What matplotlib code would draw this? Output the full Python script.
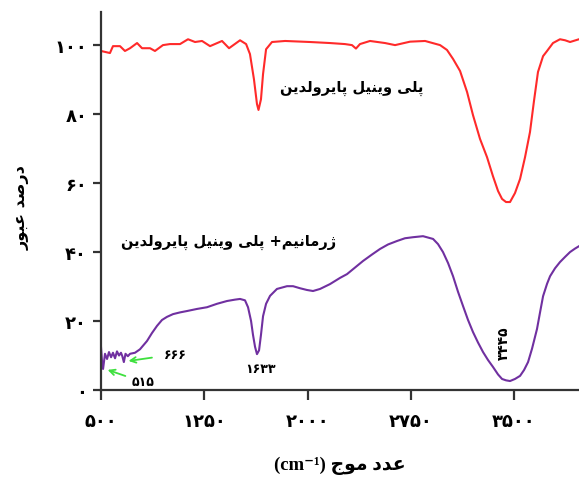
import matplotlib
matplotlib.use("Agg")
import matplotlib.pyplot as plt

# FTIR spectra: wavenumber (cm-1) and transmittance (%)
pvp_wn = [500, 565, 587, 638, 674, 711, 762, 798, 856, 892, 950, 1001, 1074, 1132,
          1183, 1234, 1292, 1379, 1430, 1510, 1554, 1582, 1611, 1633, 1644, 1662,
          1677, 1699, 1742, 1837, 2018, 2163, 2272, 2323, 2352, 2381, 2454, 2563,
          2636, 2745, 2854, 2963, 3013, 3057, 3108, 3159, 3202, 3253, 3304, 3347,
          3384, 3413, 3442, 3471, 3507, 3544, 3580, 3616, 3645, 3674, 3711, 3740,
          3783, 3834, 3871, 3907, 3972]
pvp_t = [98.3, 97.7, 99.7, 99.7, 98.3, 99.1, 100.6, 99.1, 99.1, 98.3, 100.0, 100.3,
         100.3, 101.7, 100.9, 101.2, 99.7, 101.2, 99.1, 101.4, 100.3, 97.4, 90.1,
         82.9, 81.2, 84.3, 91.6, 98.8, 100.9, 101.2, 100.9, 100.6, 100.3, 100.0,
         99.0, 100.3, 101.2, 100.6, 100.0, 101.0, 101.2, 100.0, 98.6, 96.0, 92.5,
         86.4, 79.7, 72.8, 67.5, 62.0, 57.7, 55.4, 54.5, 54.5, 57.1, 61.2, 67.5,
         74.8, 83.8, 92.2, 96.8, 98.3, 100.6, 101.7, 101.4, 100.9, 101.7]

ge_wn = [500, 507, 515, 529, 544, 558, 573, 587, 602, 616, 631, 645, 655, 666, 678,
         695, 711, 747, 783, 834, 870, 907, 943, 979, 1023, 1074, 1125, 1197, 1270,
         1343, 1415, 1473, 1510, 1546, 1568, 1590, 1604, 1619, 1633, 1648, 1662,
         1677, 1699, 1728, 1778, 1851, 1895, 1946, 1996, 2040, 2091, 2163, 2236,
         2287, 2345, 2403, 2469, 2527, 2585, 2650, 2708, 2766, 2839, 2912, 2948,
         2984, 3021, 3057, 3093, 3130, 3166, 3202, 3238, 3275, 3311, 3347, 3384,
         3413, 3442, 3471, 3507, 3544, 3573, 3602, 3631, 3667, 3689, 3711, 3740,
         3762, 3798, 3834, 3871, 3907, 3943, 3972]
ge_t = [12.5, 8.5, 6.1, 10.5, 9.0, 11.0, 9.5, 10.8, 9.2, 11.2, 10.0, 10.8, 9.8,
        8.1, 10.5, 9.8, 10.5, 10.8, 11.8, 14.2, 16.5, 18.6, 20.3, 21.2, 22.0, 22.5,
        22.9, 23.5, 24.0, 25.0, 25.8, 26.2, 26.4, 26.0, 24.0, 20.0, 16.0, 12.5,
        10.4, 11.5, 16.0, 21.4, 25.0, 27.3, 29.3, 30.1, 30.1, 29.5, 29.0, 28.7,
        29.3, 30.7, 32.5, 33.6, 35.5, 37.4, 39.3, 40.9, 42.2, 43.2, 44.0, 44.3,
        44.6, 43.8, 42.3, 40.0, 36.8, 33.0, 28.5, 24.3, 20.3, 16.8, 13.8, 11.0,
        8.7, 6.7, 4.5, 3.2, 2.8, 2.6, 3.2, 4.1, 5.8, 8.1, 12.0, 17.7, 22.5, 27.2,
        30.8, 33.0, 35.3, 37.1, 38.6, 40.0, 41.0, 41.7]

x_ticks = [500, 1250, 2000, 2750, 3500]
y_ticks = [0, 20, 40, 60, 80, 100]

pvp_label = "پلی وینیل پایرولدین"
ge_label = "ژرمانیم+ پلی وینیل پایرولدین"
x_title = "عدد موج"
y_title = "درصد عبور"

# contextual forms (isolated, final, initial, medial) - matplotlib does no shaping
FORMS = {
    "ا": ("\uFE8D", "\uFE8E"),
    "ب": ("\uFE8F", "\uFE90", "\uFE91", "\uFE92"),
    "پ": ("\uFB56", "\uFB57", "\uFB58", "\uFB59"),
    "ج": ("\uFE9D", "\uFE9E", "\uFE9F", "\uFEA0"),
    "د": ("\uFEA9", "\uFEAA"),
    "ر": ("\uFEAD", "\uFEAE"),
    "ژ": ("\uFB8A", "\uFB8B"),
    "ص": ("\uFEB9", "\uFEBA", "\uFEBB", "\uFEBC"),
    "ع": ("\uFEC9", "\uFECA", "\uFECB", "\uFECC"),
    "ل": ("\uFEDD", "\uFEDE", "\uFEDF", "\uFEE0"),
    "م": ("\uFEE1", "\uFEE2", "\uFEE3", "\uFEE4"),
    "ن": ("\uFEE5", "\uFEE6", "\uFEE7", "\uFEE8"),
    "و": ("\uFEED", "\uFEEE"),
    "\u06cc": ("\uFBFC", "\uFBFD", "\uFBFE", "\uFBFF"),
    "\u064a": ("\uFBFC", "\uFBFD", "\uFBFE", "\uFBFF"),
}


def fa(text):
    out = []
    for i, c in enumerate(text):
        if c not in FORMS:
            out.append(c)
            continue
        f = FORMS[c]
        prev = text[i - 1] if i > 0 else ""
        nxt = text[i + 1] if i < len(text) - 1 else ""
        join_prev = prev in FORMS and len(FORMS[prev]) == 4
        join_next = len(f) == 4 and nxt in FORMS
        if join_prev and join_next:
            out.append(f[3])
        elif join_prev:
            out.append(f[1])
        elif join_next:
            out.append(f[2])
        else:
            out.append(f[0])
    return "".join(out)[::-1]


def fa_num(v):
    return str(v).translate(str.maketrans("0123456789", "۰۱۲۳۴۵۶۷۸۹"))


plt.rcParams["font.family"] = ["DejaVu Sans"]
plt.rcParams["font.weight"] = "bold"

fig = plt.figure(figsize=(5.79, 4.81), dpi=100)
ax = fig.add_axes([101 / 579, 90 / 481, 478 / 579, 378 / 481])

ax.plot(pvp_wn, pvp_t, color="#ff2a2a", lw=1.5)
ax.plot(ge_wn, ge_t, color="#7030a0", lw=1.5)

ax.set_xlim(500, 3972)
ax.set_ylim(0, 109.6)
ax.spines["top"].set_visible(False)
ax.spines["right"].set_visible(False)
for s in ["left", "bottom"]:
    ax.spines[s].set_linewidth(1.6)
    ax.spines[s].set_color("#333333")

ax.set_xticks(x_ticks, [fa_num(v) for v in x_ticks])
ax.set_yticks(y_ticks, [fa_num(v) for v in y_ticks])
ax.tick_params(axis="x", length=7, width=1.6, color="#333333", pad=9, labelsize=13)
ax.tick_params(axis="y", length=6, width=1.6, color="#333333", pad=4, labelsize=13)

ax.text(2323, 87.8, fa(pvp_label), ha="center", va="center", fontsize=10.5)
ax.text(1423, 43.2, fa(ge_label), ha="center", va="center", fontsize=10.5)

green = "#3ee03e"
ax.annotate("", xy=(680, 8.3), xytext=(890, 9.5),
            arrowprops=dict(arrowstyle="->", color=green, lw=1.3))
ax.annotate("", xy=(529, 6.1), xytext=(696, 3.8),
            arrowprops=dict(arrowstyle="->", color=green, lw=1.3))
ax.text(1037, 10.4, fa_num(666), ha="center", va="center", fontsize=9)
ax.text(805, 2.6, fa_num(515), ha="center", va="center", fontsize=9)
ax.text(1655, 6.1, fa_num(1633), ha="center", va="center", fontsize=9)
ax.text(3427, 13.9, fa_num(3445), ha="center", va="center", fontsize=10, rotation=90)

fig.text(22 / 579, 1 - 208 / 481, fa(y_title), rotation=90, ha="center", va="center",
         fontsize=11.5)
fig.text(340 / 579, 1 - 466 / 481, "(cm⁻¹) " + fa(x_title), ha="center", va="center",
         fontsize=13.5, family=["Liberation Serif", "DejaVu Sans"])

fig.savefig("out.png", dpi=100)
